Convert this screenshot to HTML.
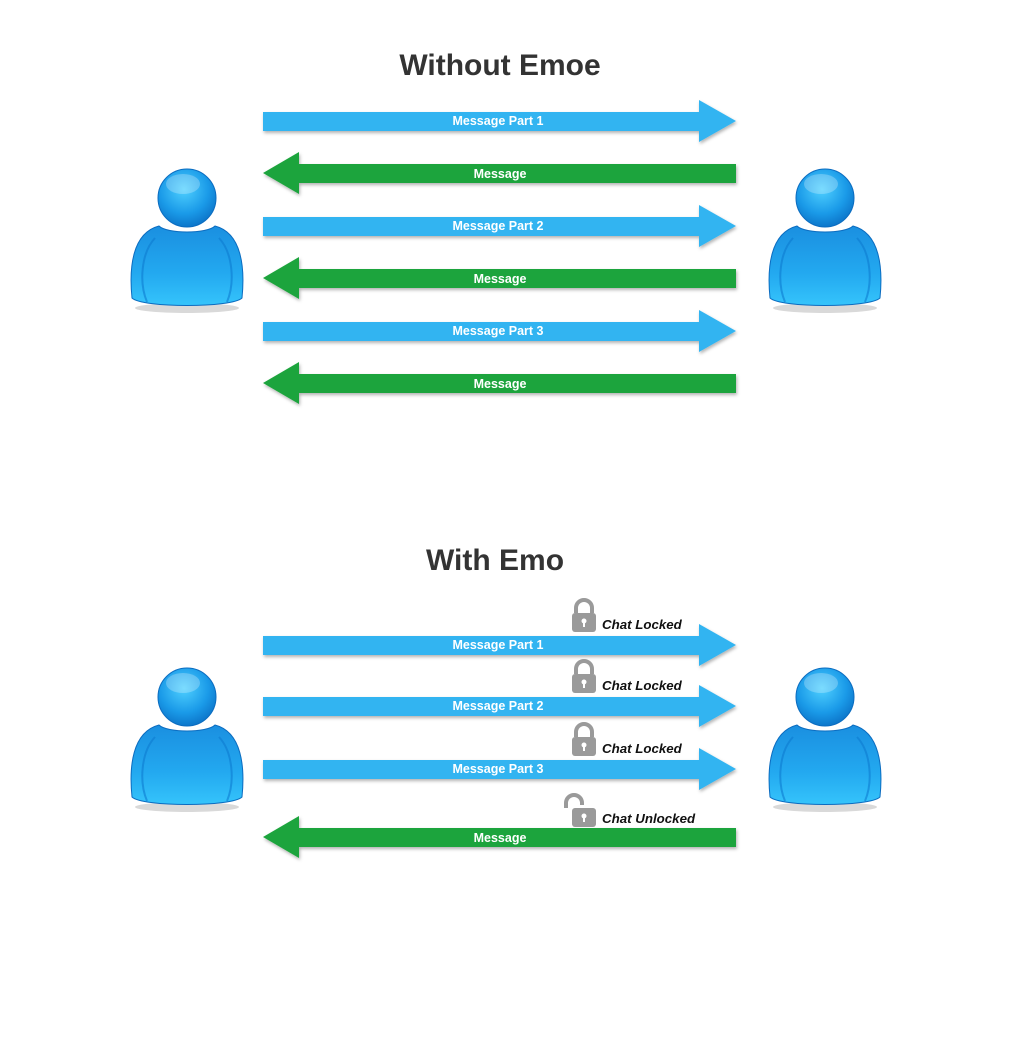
<!DOCTYPE html>
<html><head><meta charset="utf-8"><style>
html,body{margin:0;padding:0;background:#fff;}
svg{display:block}
.t{font-family:"Liberation Sans",Arial,sans-serif;font-weight:bold;}
</style></head><body>
<svg width="1024" height="1044" viewBox="0 0 1024 1044" xmlns="http://www.w3.org/2000/svg">
<defs>
<radialGradient id="hg" cx="0.45" cy="0.35" r="0.7">
<stop offset="0" stop-color="#4fd0ff"/><stop offset="0.6" stop-color="#1a9ae8"/><stop offset="1" stop-color="#0a6fc4"/>
</radialGradient>
<linearGradient id="bg" x1="0" y1="0" x2="0" y2="1">
<stop offset="0" stop-color="#1a8fe0"/><stop offset="0.6" stop-color="#23a9f0"/><stop offset="1" stop-color="#35c4fb"/>
</linearGradient>
<g id="p">
<ellipse cx="0" cy="110" rx="52" ry="5" fill="#000" opacity="0.15"/>
<path d="M-28,28 C-55,35 -58,70 -55,100 C-45,110 45,110 55,100 C58,70 55,35 28,28 C20,36 -20,36 -28,28 Z" fill="url(#bg)" stroke="#0b6cc0" stroke-width="1"/>
<path d="M-32,40 C-46,55 -48,85 -40,104" fill="none" stroke="#0d7bd0" stroke-width="2" opacity="0.6"/>
<path d="M32,40 C46,55 48,85 40,104" fill="none" stroke="#0d7bd0" stroke-width="2" opacity="0.6"/>
<circle cx="0" cy="0" r="29" fill="url(#hg)" stroke="#0b6cc0" stroke-width="1"/>
<ellipse cx="-4" cy="-14" rx="17" ry="10" fill="#fff" opacity="0.25"/>
</g>
<g id="lock">
<path d="M4,12 V7 a8,8 0 0 1 16,0 V12" fill="none" stroke="#9a9a9a" stroke-width="4"/>
<rect x="0" y="12" width="24" height="19" rx="3" fill="#9a9a9a"/>
<circle cx="12" cy="20" r="2.5" fill="#fff"/><rect x="11" y="20" width="2" height="6" fill="#fff"/>
</g>
<g id="ulock">
<path d="M-2,12 V7 a8,8 0 0 1 16,0 V9" fill="none" stroke="#9a9a9a" stroke-width="4"/>
<rect x="4" y="12" width="24" height="19" rx="3" fill="#9a9a9a"/>
<circle cx="16" cy="20" r="2.5" fill="#fff"/><rect x="15" y="20" width="2" height="6" fill="#fff"/>
</g>
<filter id="sh" x="-5%" y="-30%" width="110%" height="160%"><feDropShadow dx="1" dy="2" stdDeviation="1.5" flood-opacity="0.3"/></filter>
</defs>

<text x="500" y="75" text-anchor="middle" class="t" font-size="30" fill="#333">Without Emoe</text>
<text x="495" y="570" text-anchor="middle" class="t" font-size="30" fill="#333">With Emo</text>

<g filter="url(#sh)">
<polygon points="263,112 699,112 699,100 736,121 699,142 699,131 263,131" fill="#30b4f1"/>
<polygon points="263,217 699,217 699,205 736,226 699,247 699,236 263,236" fill="#30b4f1"/>
<polygon points="263,322 699,322 699,310 736,331 699,352 699,341 263,341" fill="#30b4f1"/>
<polygon points="736,164 299,164 299,152 263,173 299,194 299,183 736,183" fill="#1ea43e"/>
<polygon points="736,269 299,269 299,257 263,278 299,299 299,288 736,288" fill="#1ea43e"/>
<polygon points="736,374 299,374 299,362 263,383 299,404 299,393 736,393" fill="#1ea43e"/>
<polygon points="263,636 699,636 699,624 736,645 699,666 699,655 263,655" fill="#30b4f1"/>
<polygon points="263,697 699,697 699,685 736,706 699,727 699,716 263,716" fill="#30b4f1"/>
<polygon points="263,760 699,760 699,748 736,769 699,790 699,779 263,779" fill="#30b4f1"/>
<polygon points="736,828 299,828 299,816 263,837 299,858 299,847 736,847" fill="#1ea43e"/>
</g>

<g class="t" font-size="12.5" fill="#fff" text-anchor="middle">
<text x="498" y="125">Message Part 1</text>
<text x="500" y="178">Message</text>
<text x="498" y="230">Message Part 2</text>
<text x="500" y="283">Message</text>
<text x="498" y="335">Message Part 3</text>
<text x="500" y="388">Message</text>
<text x="498" y="649">Message Part 1</text>
<text x="498" y="710">Message Part 2</text>
<text x="498" y="773">Message Part 3</text>
<text x="500" y="842">Message</text>
</g>

<use href="#lock" x="572" y="601"/>
<use href="#lock" x="572" y="662"/>
<use href="#lock" x="572" y="725"/>
<use href="#ulock" x="568" y="796"/>
<g class="t" font-size="13.3" font-style="italic" fill="#111">
<text x="602" y="629">Chat Locked</text>
<text x="602" y="690">Chat Locked</text>
<text x="602" y="753">Chat Locked</text>
<text x="602" y="823">Chat Unlocked</text>
</g>

<use href="#p" x="187" y="198"/>
<use href="#p" x="825" y="198"/>
<use href="#p" x="187" y="697"/>
<use href="#p" x="825" y="697"/>
</svg>
</body></html>
